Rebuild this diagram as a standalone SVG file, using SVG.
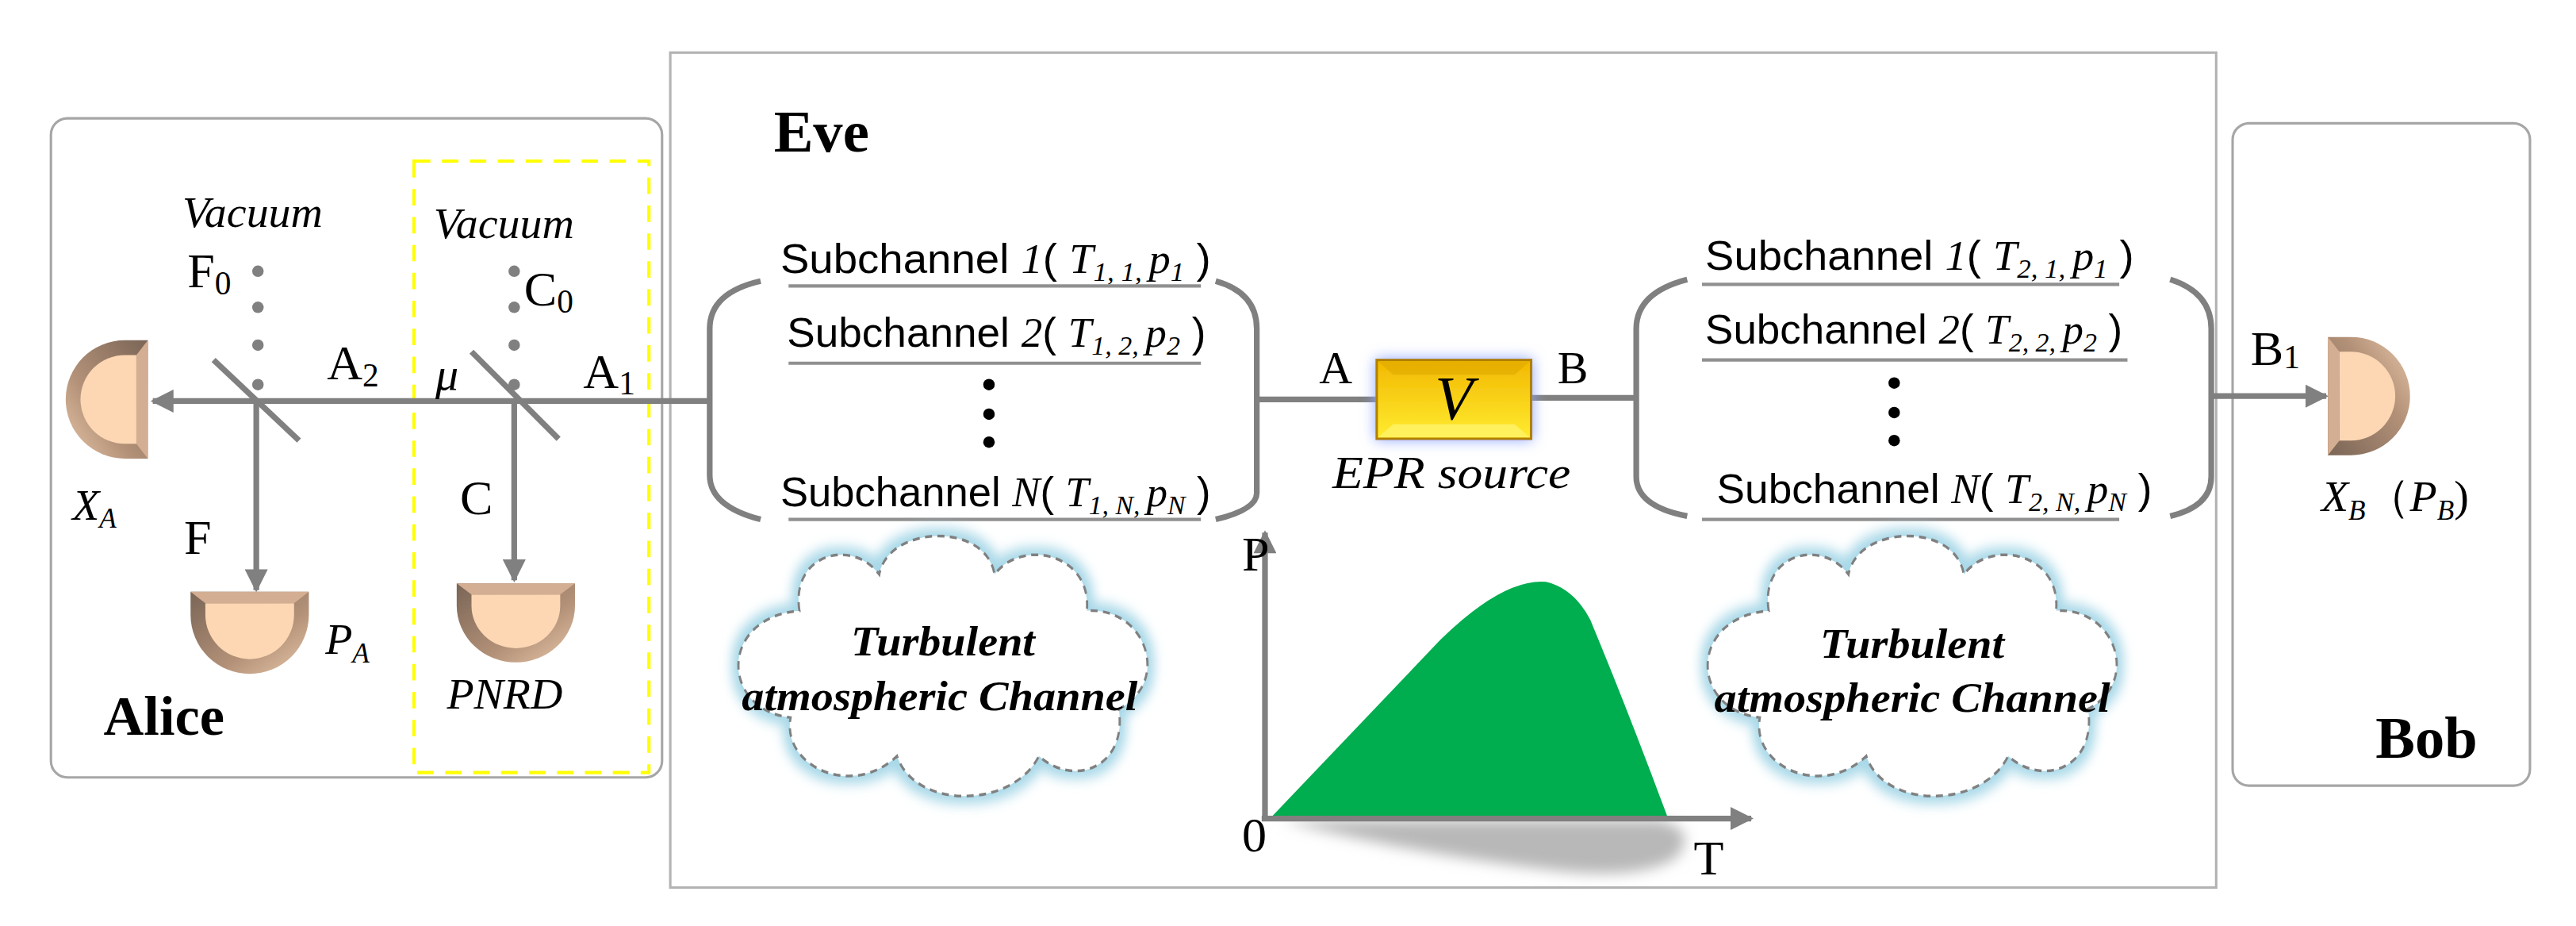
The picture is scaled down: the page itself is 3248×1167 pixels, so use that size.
<svg xmlns="http://www.w3.org/2000/svg" width="3248" height="1167" viewBox="0 0 3248 1167">
<defs>
<style>
.box{fill:#fff;stroke:#a6a6a6;stroke-width:1.5}
.beam{stroke:#808080;stroke-width:3.5;fill:none}
.t{font-family:"Liberation Serif",serif;fill:#000}
.sub{font-family:"Liberation Sans",sans-serif;font-size:25px}
.s{font-family:"Liberation Serif",serif;font-style:italic}
.it{font-style:italic}
.bold{font-weight:bold}
.ul{stroke:#909090;stroke-width:2}
.dot{fill:#808080}
.bdot{fill:#000}
.cloud{fill:#fff;stroke:#808080;stroke-width:1.3;stroke-dasharray:4 3;filter:url(#glow)}
.ct{font-family:"Liberation Serif",serif;font-style:italic;font-weight:bold;font-size:25px}
</style>
<linearGradient id="brown" x1="0" y1="0" x2="1" y2="1"><stop offset="0" stop-color="#7a6556"/><stop offset="0.6" stop-color="#b39178"/><stop offset="1" stop-color="#e6c6a8"/></linearGradient>
<linearGradient id="gold" x1="0" y1="0" x2="0" y2="1"><stop offset="0" stop-color="#f2b800"/><stop offset="1" stop-color="#ffec30"/></linearGradient>
<filter id="glow" x="-20%" y="-20%" width="140%" height="140%"><feMorphology in="SourceAlpha" operator="dilate" radius="3" result="d"/><feGaussianBlur in="d" stdDeviation="3" result="b"/><feFlood flood-color="#a8d8e8"/><feComposite in2="b" operator="in" result="g"/><feMerge><feMergeNode in="g"/><feMergeNode in="SourceGraphic"/></feMerge></filter>
<filter id="blur" x="-20%" y="-50%" width="140%" height="200%"><feGaussianBlur stdDeviation="4"/></filter>
<filter id="eglow" x="-30%" y="-50%" width="160%" height="200%"><feGaussianBlur in="SourceAlpha" stdDeviation="4" result="b"/><feFlood flood-color="#8fa8ff"/><feComposite in2="b" operator="in" result="g"/><feMerge><feMergeNode in="g"/><feMergeNode in="SourceGraphic"/></feMerge></filter>
<marker id="arr" viewBox="0 0 10 10" refX="9" refY="5" markerWidth="4.5" markerHeight="4" orient="auto"><path d="M0,0 L10,5 L0,10 Z" fill="#808080"/></marker>
<g id="det">
<path d="M-36,0 H36 V14 A36,36 0 0 1 -36,14 Z" fill="url(#brown)"/>
<path d="M-27,7 H27 V14 A27,27 0 0 1 -27,14 Z" fill="#fdd7b4"/>
<path d="M-36,0 H36 L27,7 H-27 Z" fill="#d4ae92"/>
</g>
<path id="cl" d="M-80,-28 C-85,-55 -50,-62 -35,-45 C-30,-68 25,-70 30,-45 C45,-62 85,-55 82,-28 C115,-30 130,5 100,18 C105,45 75,55 55,40 C40,65 -15,65 -25,40 C-50,60 -90,45 -85,22 C-125,18 -125,-25 -80,-28 Z"/>
</defs>
<rect width="3248" height="1167" fill="#fff"/>
<g transform="scale(2.0714)">
<g id="alice">
<rect class="box" x="31" y="72" width="372" height="401" rx="10"/>
<rect x="252" y="98" width="143" height="372" fill="none" stroke="#ffff00" stroke-width="2" stroke-dasharray="10 7"/>
<text class="t bold" x="63" y="447" font-size="34">Alice</text>
</g>
<g id="eve">
<rect x="408" y="32" width="941" height="508" fill="#fff" stroke="#b3b3b3" stroke-width="1.5"/>
<text class="t bold" x="471" y="92" font-size="36">Eve</text>
</g>
<g id="bob">
<rect class="box" x="1359" y="75" width="181" height="403" rx="10"/>
<text class="t bold" x="1446" y="461" font-size="36">Bob</text>
</g>
<g id="connectors">
<line class="beam" x1="432" y1="244" x2="93" y2="244" marker-end="url(#arr)"/>
<line class="beam" x1="156" y1="244" x2="156" y2="359" marker-end="url(#arr)"/>
<line class="beam" x1="313" y1="244" x2="313" y2="353" marker-end="url(#arr)"/>
<line class="beam" x1="765" y1="243" x2="838" y2="243"/>
<line class="beam" x1="932" y1="242" x2="996" y2="242"/>
<line class="beam" x1="1346" y1="241" x2="1416" y2="241" marker-end="url(#arr)"/>
</g>
<g id="bs1">
<line x1="130" y1="219" x2="182" y2="268" stroke="#808080" stroke-width="3.5"/>
<circle class="dot" cx="157" cy="165" r="3.5"/><circle class="dot" cx="157" cy="187" r="3.5"/><circle class="dot" cx="157" cy="210" r="3.5"/><circle class="dot" cx="157" cy="234" r="3.5"/>
<text class="t it" x="111" y="138" font-size="27">Vacuum</text>
<text class="t" x="114" y="175" font-size="30">F<tspan font-size="20" dy="4">0</tspan></text>
<text class="t" x="199" y="231" font-size="30">A<tspan font-size="20" dy="4">2</tspan></text>
<text class="t" x="112" y="337" font-size="30">F</text>
</g>
<g id="bs2">
<line x1="287" y1="214" x2="340" y2="267" stroke="#808080" stroke-width="3.5"/>
<circle class="dot" cx="313" cy="165" r="3.5"/><circle class="dot" cx="313" cy="187" r="3.5"/><circle class="dot" cx="313" cy="210" r="3.5"/><circle class="dot" cx="313" cy="234" r="3.5"/>
<text class="t it" x="264" y="145" font-size="27">Vacuum</text>
<text class="t" x="319" y="186" font-size="30">C<tspan font-size="20" dy="4">0</tspan></text>
<text class="t it" x="265" y="237" font-size="28">μ</text>
<text class="t" x="355" y="236" font-size="30">A<tspan font-size="20" dy="4">1</tspan></text>
<text class="t" x="280" y="313" font-size="30">C</text>
</g>
<g id="detXA"><use href="#det" transform="translate(90,243) rotate(90)"/>
<text class="t it" x="44" y="316" font-size="27">X<tspan font-size="17" dy="5">A</tspan></text></g>
<g id="detPA"><use href="#det" transform="translate(152,360)"/>
<text class="t it" x="198" y="398" font-size="27">P<tspan font-size="17" dy="5">A</tspan></text></g>
<g id="detPNRD"><use href="#det" transform="translate(314,355) scale(1,0.96)"/>
<text class="t it" x="272" y="431" font-size="27">PNRD</text></g>
<g id="detXB"><use href="#det" transform="translate(1417,241) rotate(-90)"/>
<text class="t it" x="1413" y="311" font-size="27">X<tspan font-size="17" dy="5">B</tspan><tspan font-style="normal" dy="-5">（</tspan>P<tspan font-size="17" dy="5">B</tspan><tspan font-style="normal" dy="-5">)</tspan></text>
<text class="t" x="1370" y="222" font-size="30">B<tspan font-size="20" dy="2">1</tspan></text></g>
<g id="channel1">
<path d="M463,171 Q432,178 432,200 V289 Q432,308 463,316 M740,171 Q765,178 765,200 V300 Q765,310 740,316" fill="none" stroke="#808080" stroke-width="3.5"/>
<text class="sub" x="475" y="166" textLength="262" lengthAdjust="spacingAndGlyphs">Subchannel <tspan class="s">1</tspan>( <tspan class="s">T</tspan><tspan class="s" font-size="16" dy="5">1, 1, </tspan><tspan class="s" dy="-5">p</tspan><tspan class="s" font-size="16" dy="5">1</tspan><tspan dy="-5">  )</tspan></text>
<line class="ul" x1="480" y1="174" x2="731" y2="174"/>
<text class="sub" x="479" y="211" textLength="255" lengthAdjust="spacingAndGlyphs">Subchannel <tspan class="s">2</tspan>( <tspan class="s">T</tspan><tspan class="s" font-size="16" dy="5">1, 2, </tspan><tspan class="s" dy="-5">p</tspan><tspan class="s" font-size="16" dy="5">2</tspan><tspan dy="-5"> )</tspan></text>
<line class="ul" x1="480" y1="221" x2="731" y2="221"/>
<circle class="bdot" cx="602" cy="234" r="3.5"/><circle class="bdot" cx="602" cy="252" r="3.5"/><circle class="bdot" cx="602" cy="269" r="3.5"/>
<text class="sub" x="475" y="308" textLength="262" lengthAdjust="spacingAndGlyphs">Subchannel <tspan class="s">N</tspan>( <tspan class="s">T</tspan><tspan class="s" font-size="16" dy="5">1, N, </tspan><tspan class="s" dy="-5">p</tspan><tspan class="s" font-size="16" dy="5">N</tspan><tspan dy="-5"> )</tspan></text>
<line class="ul" x1="480" y1="316" x2="731" y2="316"/>
</g>
<g id="channel2">
<path d="M1027,170 Q996,178 996,200 V290 Q996,308 1027,314 M1321,170 Q1346,178 1346,200 V290 Q1346,308 1321,314" fill="none" stroke="#808080" stroke-width="3.5"/>
<text class="sub" x="1038" y="164" textLength="261" lengthAdjust="spacingAndGlyphs">Subchannel <tspan class="s">1</tspan>( <tspan class="s">T</tspan><tspan class="s" font-size="16" dy="5">2, 1, </tspan><tspan class="s" dy="-5">p</tspan><tspan class="s" font-size="16" dy="5">1</tspan><tspan dy="-5">  )</tspan></text>
<line class="ul" x1="1036" y1="173" x2="1290" y2="173"/>
<text class="sub" x="1038" y="209" textLength="254" lengthAdjust="spacingAndGlyphs">Subchannel <tspan class="s">2</tspan>( <tspan class="s">T</tspan><tspan class="s" font-size="16" dy="5">2, 2, </tspan><tspan class="s" dy="-5">p</tspan><tspan class="s" font-size="16" dy="5">2</tspan><tspan dy="-5"> )</tspan></text>
<line class="ul" x1="1036" y1="219" x2="1295" y2="219"/>
<circle class="bdot" cx="1153" cy="233" r="3.5"/><circle class="bdot" cx="1153" cy="251" r="3.5"/><circle class="bdot" cx="1153" cy="268" r="3.5"/>
<text class="sub" x="1045" y="306" textLength="265" lengthAdjust="spacingAndGlyphs">Subchannel <tspan class="s">N</tspan>( <tspan class="s">T</tspan><tspan class="s" font-size="16" dy="5">2, N, </tspan><tspan class="s" dy="-5">p</tspan><tspan class="s" font-size="16" dy="5">N</tspan><tspan dy="-5"> )</tspan></text>
<line class="ul" x1="1036" y1="316" x2="1290" y2="316"/>
</g>
<g id="epr">
<rect x="838" y="219" width="94" height="48" fill="url(#gold)" stroke="#b08000" stroke-width="1.5" filter="url(#eglow)"/>
<path d="M839,220 L848,228 H922 L931,220 Z" fill="#e0a800" opacity="0.6"/>
<path d="M839,266 L848,258 H922 L931,266 Z" fill="#fff36a" opacity="0.8"/>
<text class="t it" x="885" y="255" font-size="38" text-anchor="middle">V</text>
<text class="t" x="803" y="233" font-size="28">A</text>
<text class="t" x="948" y="233" font-size="28">B</text>
<text class="t it" x="811" y="297" font-size="28" textLength="145" lengthAdjust="spacingAndGlyphs">EPR source</text>
</g>
<g id="cloud1">
<use href="#cl" class="cloud" transform="translate(573,408) scale(1.08,1.3)"/>
<text class="ct" x="574" y="399" text-anchor="middle" textLength="112" lengthAdjust="spacingAndGlyphs">Turbulent</text>
<text class="ct" x="572" y="432" text-anchor="middle" textLength="241" lengthAdjust="spacingAndGlyphs">atmospheric Channel</text>
</g>
<g id="cloud2">
<use href="#cl" class="cloud" transform="translate(1163,408) scale(1.08,1.3)"/>
<text class="ct" x="1164" y="400" text-anchor="middle" textLength="112" lengthAdjust="spacingAndGlyphs">Turbulent</text>
<text class="ct" x="1164" y="433" text-anchor="middle" textLength="241" lengthAdjust="spacingAndGlyphs">atmospheric Channel</text>
</g>
<g id="graph">
<path d="M780,499 L1010,499 Q1035,505 1020,522 Q1000,535 950,530 Q860,520 780,499 Z" fill="#b8b8b8" filter="url(#blur)"/>
<path d="M774,497 L877,389 Q915,352 941,354 Q958,358 968,377 Q990,430 1015,497 Z" fill="#00ad4f"/>
<line class="beam" x1="770" y1="499" x2="770" y2="324" marker-end="url(#arr)"/>
<line class="beam" x1="768" y1="498" x2="1066" y2="498" marker-end="url(#arr)"/>
<text class="t" x="756" y="347" font-size="30">P</text>
<text class="t" x="756" y="518" font-size="30">0</text>
<text class="t" x="1031" y="532" font-size="30">T</text>
</g>
</g>
</svg>
